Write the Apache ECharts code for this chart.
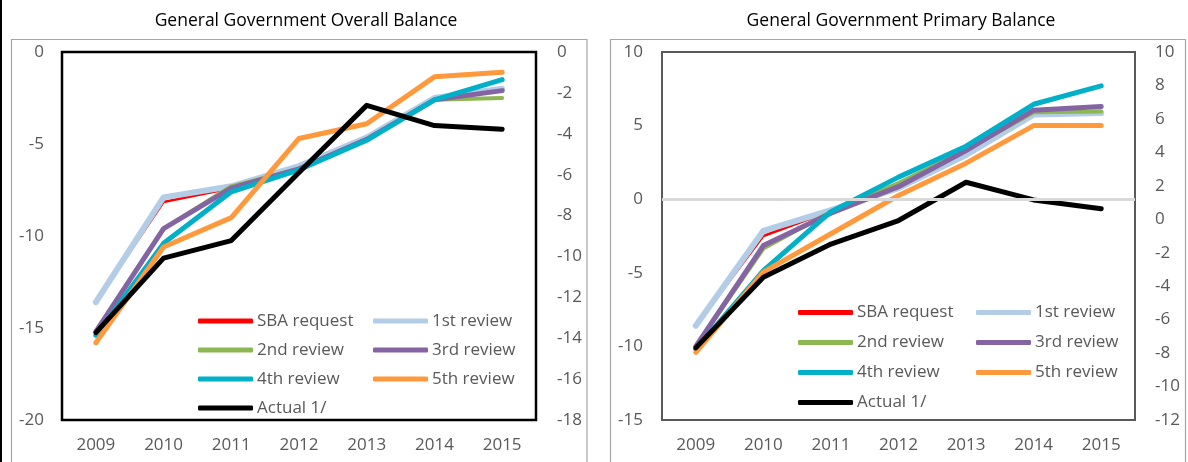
<!DOCTYPE html>
<html>
<head>
<meta charset="utf-8">
<script src="https://cdn.jsdelivr.net/npm/echarts@6/dist/echarts.min.js"></script>
<style>
html,body{margin:0;padding:0;background:#fff;}
#c{width:1188px;height:462px;}
</style>
</head>
<body>
<div id="c"></div>
<script>
// ---- data ----
const years = ['2009','2010','2011','2012','2013','2014','2015'];
const seriesNames = ['SBA request','1st review','2nd review','3rd review','4th review','5th review','Actual 1/'];

// General Government Overall Balance
const obSBA    = [-13.6, -8.15, -7.4, -6.3, -4.75, -2.6, -2.0];
const obRev1   = [-13.6, -7.9, -7.3, -6.2, -4.65, -2.5, -2.0];
const obRev2   = [-15.2, -9.6, -7.3, -6.35, -4.75, -2.6, -2.5];
const obRev3   = [-15.2, -9.6, -7.4, -6.35, -4.75, -2.6, -2.1];
const obRev4   = [-15.4, -10.4, -7.6, -6.4, -4.8, -2.6, -1.5];
const obRev5   = [-15.8, -10.6, -9.0, -4.7, -3.9, -1.35, -1.1];
const obActual = [-15.25, -11.2, -10.25, -6.55, -2.9, -4.0, -4.2];

// General Government Primary Balance
const pbSBA    = [-8.6, -2.5, -0.8, 1.0, 3.3, 5.9, 6.0];
const pbRev1   = [-8.6, -2.15, -0.75, 0.75, 3.0, 5.75, 5.85];
const pbRev2   = [-10.0, -3.35, -0.85, 1.1, 3.35, 5.9, 5.95];
const pbRev3   = [-10.0, -3.15, -0.95, 0.85, 3.3, 6.05, 6.3];
const pbRev4   = [-10.2, -4.85, -0.85, 1.5, 3.6, 6.45, 7.7];
const pbRev5   = [-10.4, -4.95, -2.35, 0.25, 2.45, 5.0, 5.0];
const pbActual = [-10.1, -5.3, -3.05, -1.45, 1.15, -0.05, -0.65];

const titles = ['General Government Overall Balance', 'General Government Primary Balance'];

// ---- styles ----
const colors = ['#ff0000', '#b3cde6', '#8db753', '#8464a3', '#00afc8', '#ff993c', '#000000'];
const widths = [2.5, 6, 4, 5, 5, 5, 5];
const FONT = '"Open Sans", "Noto Sans", sans-serif';
const GRAY = '#595959';

const obData = [obSBA, obRev1, obRev2, obRev3, obRev4, obRev5, obActual];
const pbData = [pbSBA, pbRev1, pbRev2, pbRev3, pbRev4, pbRev5, pbActual];

const chart = echarts.init(document.getElementById('c'), null, {renderer: 'canvas'});

function mkSeries(dataArr, gi) {
  return dataArr.map((d, i) => ({
    name: seriesNames[i],
    type: 'line',
    xAxisIndex: gi,
    yAxisIndex: gi * 2,
    data: d,
    symbol: 'none',
    color: colors[i],
    lineStyle: {color: colors[i], width: widths[i], cap: 'round', join: 'round'},
    itemStyle: {color: colors[i]},
    silent: true,
    animation: false,
    z: 3
  }));
}

const yLabel = {color: GRAY, fontSize: 17, fontFamily: FONT};

function yAxisPair(gi, lmin, lmax, lint, rmin, rmax, rint, lm, rm) {
  return [
    {type: 'value', gridIndex: gi, position: 'left', min: lmin, max: lmax, interval: lint,
     axisLine: {show: false}, axisTick: {show: false}, splitLine: {show: false},
     axisLabel: Object.assign({margin: lm}, yLabel)},
    {type: 'value', gridIndex: gi, position: 'right', min: rmin, max: rmax, interval: rint,
     axisLine: {show: false}, axisTick: {show: false}, splitLine: {show: false},
     axisLabel: Object.assign({margin: rm}, yLabel)}
  ];
}

function xAxis(gi) {
  return {type: 'category', gridIndex: gi, data: years, boundaryGap: true,
    axisLine: {show: false}, axisTick: {show: false}, splitLine: {show: false},
    axisLabel: {color: GRAY, fontSize: 17, fontFamily: FONT, margin: 17}};
}

function legendCol(names, left, top, gap) {
  return {
    data: names, orient: 'vertical', left: left, top: top, padding: 0,
    itemGap: gap, itemWidth: 55, itemHeight: 5, icon: 'roundRect',
    selectedMode: false,
    textStyle: {color: GRAY, fontSize: 17, fontFamily: FONT, lineHeight: 20, padding: [0, 0, 0, -1]}
  };
}

const col1 = ['SBA request', '2nd review', '4th review', 'Actual 1/'];
const col2 = ['1st review', '3rd review', '5th review'];

const zeroSeries = {
  name: 'zero', type: 'line', xAxisIndex: 1, yAxisIndex: 2,
  data: [null, null, null, null, null, null, null], symbol: 'none', silent: true, animation: false, z: 2,
  markLine: {silent: true, symbol: ['none', 'none'], animation: false,
    label: {show: false},
    lineStyle: {color: '#d9d9d9', width: 3, type: 'solid'},
    data: [{yAxis: 0}]}
};

const option = {
  animation: false,
  backgroundColor: '#ffffff',
  title: [
    {text: titles[0], left: 301, top: 7, textAlign: 'center',
     textStyle: {color: '#000', fontSize: 17.5, fontWeight: 'normal', fontFamily: FONT}},
    {text: titles[1], left: 896, top: 7, textAlign: 'center',
     textStyle: {color: '#000', fontSize: 17.5, fontWeight: 'normal', fontFamily: FONT}}
  ],
  graphic: [
    {type: 'line', shape: {x1: 1, y1: 0, x2: 1, y2: 462}, style: {stroke: '#000', lineWidth: 2}, silent: true},
    {type: 'rect', shape: {x: 11.5, y: 39.5, width: 575.5, height: 440}, style: {fill: 'none', stroke: '#a6a6a6', lineWidth: 1.2}, silent: true, z: -10},
    {type: 'rect', shape: {x: 610.5, y: 39.5, width: 575, height: 440}, style: {fill: 'none', stroke: '#a6a6a6', lineWidth: 1.2}, silent: true, z: -10}
  ],
  grid: [
    {left: 62, top: 52, width: 474, height: 368, show: true, borderColor: '#000', borderWidth: 2.5, backgroundColor: 'transparent', containLabel: false},
    {left: 662, top: 52, width: 473, height: 368, show: true, borderColor: '#595959', borderWidth: 2, backgroundColor: 'transparent', containLabel: false}
  ],
  xAxis: [xAxis(0), xAxis(1)],
  yAxis: [].concat(
    yAxisPair(0, -20, 0, 5, -18, 0, 2, 18, 21),
    yAxisPair(1, -15, 10, 5, -12, 10, 2, 19, 20)
  ),
  legend: [
    legendCol(col1, 198, 311, 9),
    legendCol(col2, 373, 311, 9),
    legendCol(col1, 798, 302.5, 10),
    legendCol(col2, 976, 302.5, 10)
  ],
  series: [zeroSeries].concat(mkSeries(obData, 0), mkSeries(pbData, 1))
};

chart.setOption(option);
</script>
</body>
</html>
